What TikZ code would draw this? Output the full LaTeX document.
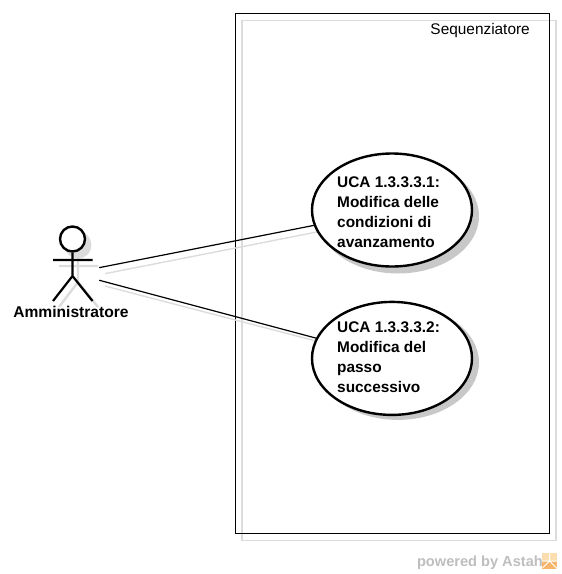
\documentclass[tikz,border=0pt]{standalone}
\usepackage{fontspec}
\setmainfont{Liberation Sans}
\usetikzlibrary{positioning}
\usetikzlibrary{shapes.geometric}
\definecolor{shadowgray}{HTML}{C8C8C8}
\definecolor{lineshadow}{HTML}{DCDCDC}
\definecolor{poweredgray}{HTML}{BEBEBE}
\definecolor{logoorange}{HTML}{F5B56A}
\definecolor{logolight}{HTML}{FBDDB0}
\begin{document}
\begin{tikzpicture}[
          x=1pt,y=-1pt,
          node distance=33pt and 1cm,
          usecase/.style={draw,ellipse,line width=2.4pt,fill=white,minimum width=160pt,minimum height=113pt,inner sep=0pt},
          usecaseshadow/.style={ellipse,fill=shadowgray,minimum width=162pt,minimum height=115pt,inner sep=0pt},
          casetext/.style={font=\fontsize{15.4}{20}\bfseries\selectfont,align=left,inner sep=0pt},
          actorbox/.style={minimum width=54pt,minimum height=40pt,inner sep=0pt},
          assoc/.style={draw,line width=1.2pt},
          assocshadow/.style={draw=lineshadow,line width=1.4pt},
          actorline/.style={draw,line width=2.2pt},
          actorshadow/.style={draw=lineshadow,line width=2.4pt}
          ]
          \useasboundingbox (0,0) rectangle (562,574);

          % boundary
          \node[draw=lineshadow,line width=1.5pt,minimum width=314pt,minimum height=520pt,inner sep=0pt,outer sep=0pt] (systemshadow) at (399,280.5) {};
          \node[draw,line width=0.9pt,minimum width=314pt,minimum height=520pt,inner sep=0pt,outer sep=0pt] (system) at (392.5,273.5) {};
          \node[font=\fontsize{15.4}{18}\selectfont,inner sep=0pt,anchor=north east] (systemlabel) at (530,23) {Sequenziatore};

          % shadows first
          \node[actorbox] (adminshadow) at (78,279) {};
          \node[usecaseshadow] (uc1shadow) at (398,216) {};
          \node[usecaseshadow,below=31pt of uc1shadow] (uc2shadow) {};
          \path (adminshadow) edge[assocshadow] (uc1shadow)
          (adminshadow) edge[assocshadow] (uc2shadow)
          ;
          \draw[draw=lineshadow,fill=lineshadow,line width=2pt] (78,245) circle (12.5);
          \draw[actorshadow] (78,258) -- (78,282) (59,266) -- (98,266)
          (59,307) -- (78,282) -- (98,307);

          % actor
          \node[actorbox] (admin) at (72,273) {};
          \node[circle,draw,line width=2.4pt,fill=white,minimum size=25pt,inner sep=0pt] (head) at (72.5,239) {};
          \coordinate (hip) at (72.5,276);
          \draw[actorline] (head) -- (hip) (53,260) -- (92.5,260)
          (53,301) -- (hip) -- (92.5,301);
          \node[font=\fontsize{15.6}{18}\bfseries\selectfont,inner sep=0pt] (adminlabel) at (71,312) {Amministratore};

          % use cases
          \node[usecase] (uc1) at (392,210) {};
          \node[usecase,below=33pt of uc1] (uc2) {};
          \node[casetext,anchor=north west] (uc1text) at (337,177) {UCA 1.3.3.3.1:\\Modifica delle\\condizioni di\\avanzamento};
          \node[casetext,anchor=north west] (uc2text) at (337,322) {UCA 1.3.3.3.2:\\Modifica del\\passo\\successivo};
          \path (admin) edge[assoc] (uc1)
          (admin) edge[assoc] (uc2)
          ;

          % footer
          \node[font=\fontsize{14.6}{18}\bfseries\selectfont,text=poweredgray,inner sep=0pt,anchor=east] (powered) at (543,563) {powered by Astah};
          \node[fill=logoorange,minimum size=15pt,inner sep=0pt] (logo) at (549.5,561) {};
          \fill[logolight] (logo.north west) rectangle (logo.east);
          \draw[white,line width=1pt] (logo.north) -- (logo.center) (logo.west) -- (logo.east)
          (logo.south west) ++(1,-1) -- (logo.center) -- (logo.south east);
        \end{tikzpicture}
\end{document}
